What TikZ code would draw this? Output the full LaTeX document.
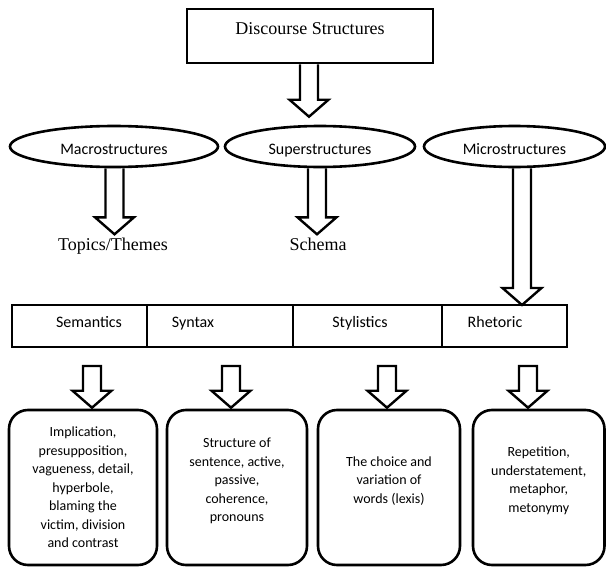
\documentclass[tikz,border=0pt]{standalone}
\usepackage{fontspec}
\setmainfont{Liberation Serif}
\newfontfamily\calibri{Carlito}
\usepackage{tikz}
\usetikzlibrary{calc, shapes.geometric, positioning}

% hollow block arrow, shaft open at the top (starts on the border of #1)
\newcommand{\openarrow}[2]{%
  \draw[blk] let \p1=(#1), \p2=(#2) in
    (\x2-9pt,\y1) -- (\x2-9pt,\y2+17pt) -- (\x2-19.5pt,\y2+17pt) -- (\x2,\y2)
    -- (\x2+19.5pt,\y2+17pt) -- (\x2+9pt,\y2+17pt) -- (\x2+9pt,\y1);}
% hollow block arrow, closed shaft
\newcommand{\closedarrow}[2]{%
  \draw[blk] let \p1=(#1), \p2=(#2) in
    (\x2-9pt,\y1) -- (\x2-9pt,\y2+17pt) -- (\x2-19.5pt,\y2+17pt) -- (\x2,\y2)
    -- (\x2+19.5pt,\y2+17pt) -- (\x2+9pt,\y2+17pt) -- (\x2+9pt,\y1) -- cycle;}

\begin{document}
\begin{tikzpicture}[x=1pt, y=-1pt, line width=2.6pt,
    blk/.style={draw, line width=2.4pt, line join=miter},
    topbox/.style={draw, rectangle, minimum width=246pt, minimum height=54pt, inner sep=0pt},
    oval/.style={draw, ellipse, minimum height=41pt, inner sep=0pt,
        text height=16pt, text depth=1pt,
        font=\calibri\fontsize{16}{19}\selectfont},
    serif/.style={text height=16pt, text depth=2pt, font=\fontsize{18}{21}\selectfont},
    cell/.style={draw, rectangle, minimum height=42pt, inner sep=0pt, outer sep=0pt},
    celltxt/.style={text height=11pt, text depth=9pt, font=\calibri\fontsize{16}{19}\selectfont},
    rbox/.style={draw, rectangle, rounded corners=19pt, minimum height=155pt, inner sep=0pt},
    rtxt/.style={align=center, font=\calibri\fontsize{14}{18.5}\selectfont}]

    \useasboundingbox (0,0) rectangle (606,568);

    % =================================================================
    % 1. DISCOURSE STRUCTURES
    % =================================================================
    \node[topbox] (top) at (310,36) {};
    \node[serif] (toptxt) at ($(top.center)+(0,-8.7)$) {Discourse Structures};

    % =================================================================
    % 2. THE THREE STRUCTURES
    % =================================================================
    \node[oval, minimum width=208pt] (macro) at (114,146.5) {Macrostructures};
    \node[oval, minimum width=190pt] (super) at (320,146.5) {Superstructures};
    \node[oval, minimum width=181pt] (micro) at (514.5,146.5) {Microstructures};

    \node[serif] (topics) at (113,243) {Topics/Themes};
    \node[serif] (schema) at (318,243) {Schema};

    % =================================================================
    % 3. LEVELS OF MICROSTRUCTURE
    % =================================================================
    \node[cell, minimum width=135pt,
        label={[celltxt, xshift=9.5pt]center:Semantics}] (sem) at (79.5,326) {};
    \node[cell, minimum width=146pt, right=0pt of sem,
        label={[celltxt, xshift=-27pt]center:Syntax}] (syn) {};
    \node[cell, minimum width=149pt, right=0pt of syn,
        label={[celltxt, xshift=-7.5pt]center:Stylistics}] (sty) {};
    \node[cell, minimum width=125pt, right=0pt of sty,
        label={[celltxt, xshift=-9.5pt]center:Rhetoric}] (rhe) {};

    % =================================================================
    % 4. EXAMPLES
    % =================================================================
    \node[rbox, minimum width=148pt, label={[rtxt]center:{Implication,\\presupposition,\\vagueness, detail,\\hyperbole,\\blaming the\\victim, division\\and contrast}}] (b1) at (83,487.5) {};
    \node[rbox, minimum width=140pt, label={[rtxt, yshift=6.5pt]center:{Structure of\\sentence, active,\\passive,\\coherence,\\pronouns}}] (b2) at (237,487.5) {};
    \node[rbox, minimum width=142pt, label={[rtxt, yshift=6.5pt]center:{The choice and\\variation of\\words (lexis)}}] (b3) at (389,487.5) {};
    \node[rbox, minimum width=131.5pt, label={[rtxt, yshift=6.5pt]center:{Repetition,\\understatement,\\metaphor,\\metonymy}}] (b4) at (538.75,487.5) {};

    % =================================================================
    % 5. BLOCK ARROWS
    % =================================================================
    \openarrow{top.south}{$(super.north)+(-11,-8)$}
    \openarrow{macro.south}{$(macro.south)+(0.5,66)$}
    \openarrow{super.south}{$(super.south)+(-3,66)$}
    \openarrow{micro.south}{$(rhe.north)+(17.5,0)$}

    \closedarrow{$(sem.south)+(0,19)$}{$(b1.north)+(9,-1)$}
    \closedarrow{$(syn.south)+(0,19)$}{$(b2.north)+(-6,-1)$}
    \closedarrow{$(sty.south)+(0,19)$}{$(b3.north)+(-2,-1)$}
    \closedarrow{$(rhe.south)+(0,19)$}{$(b4.north)+(-10.75,-1)$}

\end{tikzpicture}
\end{document}
